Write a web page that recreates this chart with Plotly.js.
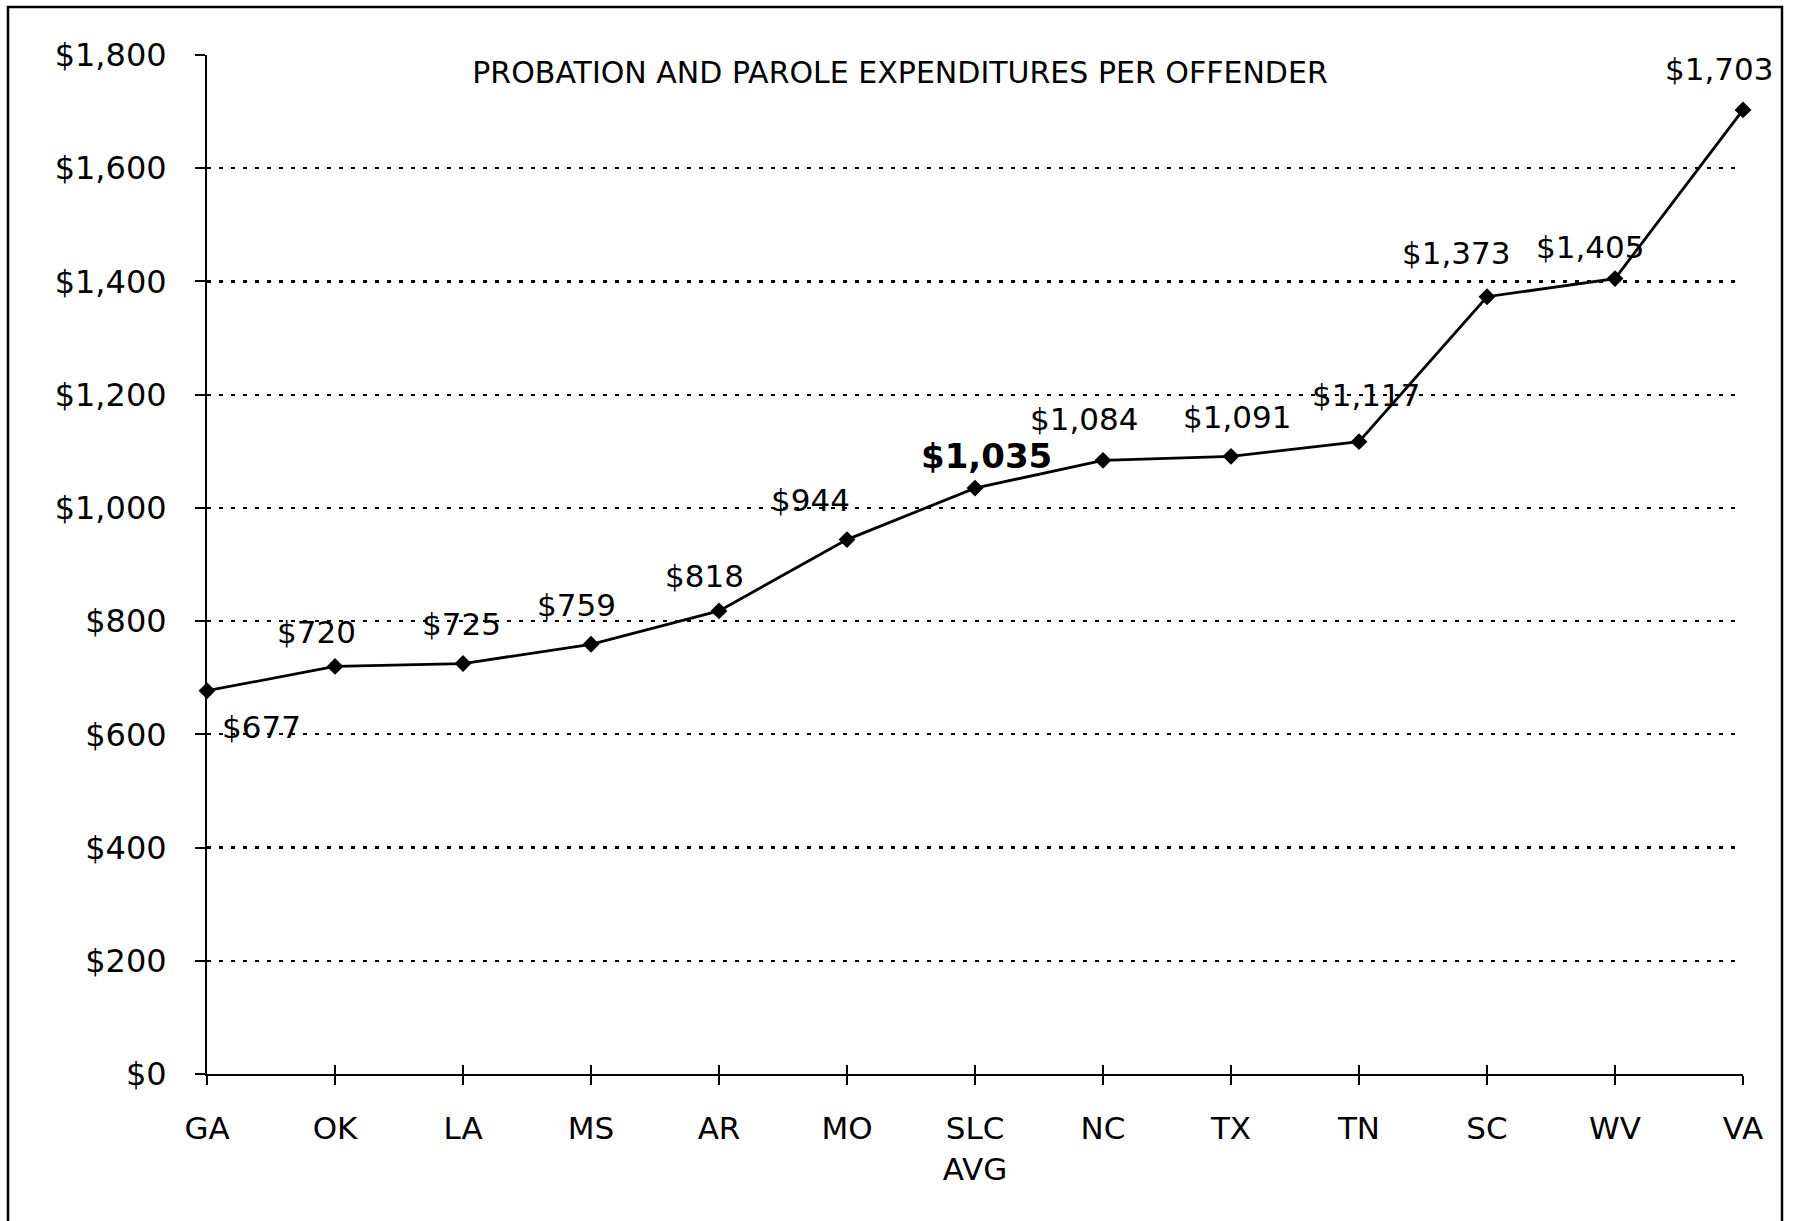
<!DOCTYPE html>
<html>
<head>
<meta charset="utf-8">
<script src="https://cdn.plot.ly/plotly-3.0.1.min.js"></script>
<style>
  html, body { margin: 0; padding: 0; background: #ffffff; }
  #chart { width: 1796px; height: 1221px; }
</style>
</head>
<body>
<div id="chart"></div>
<script>
// ---- data ----
const states = ['GA', 'OK', 'LA', 'MS', 'AR', 'MO', 'SLC<br>AVG', 'NC', 'TX', 'TN', 'SC', 'WV', 'VA'];
const expenditures = [677, 720, 725, 759, 818, 944, 1035, 1084, 1091, 1117, 1373, 1405, 1703];
const highlightState = 'SLC<br>AVG';
const yTicks = [0, 200, 400, 600, 800, 1000, 1200, 1400, 1600, 1800];
const gridTicks = [200, 400, 600, 800, 1000, 1200, 1400, 1600];
const chartTitle = 'PROBATION AND PAROLE EXPENDITURES PER OFFENDER';

// ---- label placement (layout only) ----
const labelShiftX = [54, -19, -2, -15, -15, -37, 11, -19, 6, 7, -31, -25, -24];
const labelShiftY = [-36, 34, 40, 39, 35, 40, 32, 41, 39, 47, 44, 32, 41];

const FONT = 'DejaVu Sans';
const W = 1796, H = 1221;
const L = 207, R = 53, T = 55, B = 147;
const plotW = W - L - R, plotH = H - T - B;

function money(v) { return '$' + v.toLocaleString('en-US'); }

const mainTrace = {
  type: 'scatter',
  mode: 'lines+markers',
  x: states,
  y: expenditures,
  xaxis: 'x',
  yaxis: 'y',
  line: { color: '#000000', width: 2.8 },
  marker: { symbol: 'diamond', size: 13, color: '#000000' },
  cliponaxis: false,
  hoverinfo: 'x+y',
  showlegend: false
};

// invisible helper trace so overlay axes (crossing ticks + dotted grid) get drawn
const helperTrace = {
  type: 'scatter',
  mode: 'markers',
  x: states,
  y: expenditures,
  xaxis: 'x2',
  yaxis: 'y2',
  marker: { opacity: 0 },
  hoverinfo: 'skip',
  showlegend: false
};

const annotations = expenditures.map((v, i) => {
  const bold = states[i] === highlightState;
  return {
    x: states[i],
    y: v,
    xref: 'x',
    yref: 'y',
    text: bold ? '<b>' + money(v) + '</b>' : money(v),
    showarrow: false,
    xshift: labelShiftX[i],
    yshift: labelShiftY[i],
    font: { family: FONT, size: bold ? 34 : 31, color: '#000000' },
    xanchor: 'center',
    yanchor: 'middle'
  };
});

const layout = {
  width: W,
  height: H,
  paper_bgcolor: '#ffffff',
  plot_bgcolor: 'rgba(0,0,0,0)',
  margin: { l: L, r: R, t: T, b: B, pad: 0 },
  showlegend: false,
  title: {
    text: chartTitle,
    font: { family: FONT, size: 30, color: '#000000' },
    x: 900 / W,
    xref: 'container',
    xanchor: 'center',
    y: 1 - 72 / H,
    yref: 'container',
    yanchor: 'middle'
  },
  xaxis: {
    type: 'category',
    categoryorder: 'array',
    categoryarray: states,
    range: [0, states.length - 1],
    showline: true,
    linecolor: '#000000',
    linewidth: 2,
    ticks: 'outside',
    ticklen: 9,
    tickwidth: 2,
    tickcolor: '#000000',
    showgrid: false,
    zeroline: false,
    tickfont: { family: FONT, size: 31, color: '#000000' },
    ticklabelstandoff: 17,
    fixedrange: true
  },
  xaxis2: {
    type: 'category',
    categoryorder: 'array',
    categoryarray: states,
    range: [0, states.length - 1],
    overlaying: 'x',
    anchor: 'y',
    side: 'bottom',
    showline: false,
    ticks: 'inside',
    ticklen: 9,
    tickwidth: 2,
    tickcolor: '#000000',
    showticklabels: false,
    showgrid: false,
    zeroline: false,
    fixedrange: true
  },
  yaxis: {
    range: [0, 1800],
    tickmode: 'array',
    tickvals: yTicks,
    ticktext: yTicks.map(money),
    showline: true,
    linecolor: '#000000',
    linewidth: 2,
    ticks: 'outside',
    ticklen: 10,
    tickwidth: 2,
    tickcolor: '#000000',
    showgrid: false,
    zeroline: false,
    tickfont: { family: FONT, size: 32, color: '#000000' },
    ticklabelstandoff: 22,
    fixedrange: true
  },
  yaxis2: {
    range: [0, 1800],
    overlaying: 'y',
    anchor: 'x',
    side: 'left',
    tickmode: 'array',
    tickvals: gridTicks,
    showticklabels: false,
    ticks: '',
    showline: false,
    showgrid: true,
    gridcolor: '#000000',
    gridwidth: 2.2,
    griddash: '4px,8px',
    zeroline: false,
    fixedrange: true
  },
  annotations: annotations,
  shapes: [{
    type: 'rect',
    xref: 'paper',
    yref: 'paper',
    x0: (8 - L) / plotW,
    x1: (1782 - L) / plotW,
    y0: -0.3,
    y1: (H - B - 7) / plotH,
    line: { color: '#000000', width: 2.5 },
    fillcolor: 'rgba(0,0,0,0)',
    layer: 'above'
  }]
};

Plotly.newPlot('chart', [mainTrace, helperTrace], layout, { displayModeBar: false, staticPlot: true });
</script>
</body>
</html>
